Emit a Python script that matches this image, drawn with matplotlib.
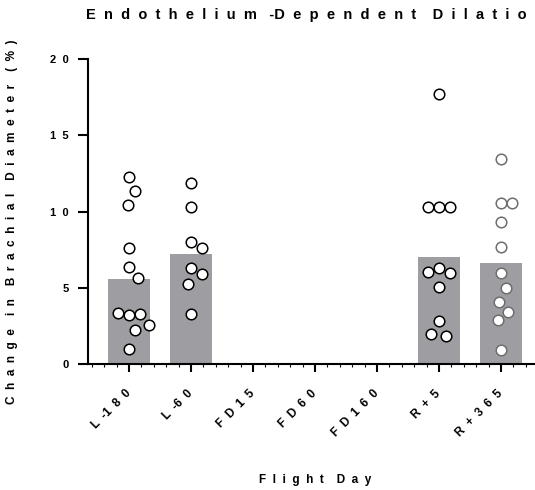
import numpy as np
import matplotlib.pyplot as plt
from matplotlib.ticker import MultipleLocator

plt.rcParams['font.family'] = ['Liberation Sans', 'DejaVu Sans']
plt.rcParams['font.weight'] = 'bold'

# data
days = ['L  -1  8  0', 'L  -6  0', 'F  D  1  5', 'F  D  6  0', 'F  D  1  6  0', 'R  +  5', 'R  +  3  6  5']
means = [5.6, 7.2, np.nan, np.nan, np.nan, 7.05, 6.6]
l180 = [12.27, 11.33, 10.41, 7.58, 6.38, 5.62, 3.22, 3.27, 3.33, 2.57, 2.24, 1.0]
l60 = [11.9, 10.3, 8.0, 7.58, 6.32, 5.88, 5.23, 3.27]
rp5 = [17.7, 10.3, 10.3, 10.3, 6.27, 6.0, 6.06, 5.08, 2.79, 1.87, 1.96]
rp365 = [13.46, 10.59, 10.59, 9.33, 7.69, 5.99, 4.97, 4.1, 3.44, 2.9, 0.9]
subjects = {0: l180, 1: l60, 5: rp5, 6: rp365}
yticks = [0, 5, 10, 15, 20]
ytick_labels = ['0', '5', '1  0', '1  5', '2  0']

PX_X = 62.0   # pixels per category
PX_Y = 15.3   # pixels per unit
DX = 11.0     # horizontal clearance in pixels
DY = 17.0     # vertical clearance in pixels


def swarm(vals):
    """simple beeswarm offsets (category units)"""
    placed = []
    offs = []
    for v in vals:
        y = v * PX_Y
        best = None
        for k in range(0, 60):
            for sgn in ([0] if k == 0 else [1, -1]):
                x = sgn * k * 1.0
                ok = all(((x - px) / DX) ** 2 + ((y - py) / DY) ** 2 >= 1 for px, py in placed)
                if ok:
                    best = x
                    break
            if best is not None:
                break
        placed.append((best, y))
        offs.append(best / PX_X)
    return offs


fig = plt.figure(figsize=(5.35, 4.9), dpi=100)
ax = fig.add_axes([0.1645, 0.2571, 0.8486, 0.6224])

x = np.arange(len(days))
ax.bar(x, means, width=0.67, color='#9e9ea2', zorder=1)

for i, vals in subjects.items():
    offs = swarm(vals)
    ec = '#6e6e6e' if i == 6 else 'black'
    ax.scatter(i + np.array(offs), vals, s=58, facecolor='white', edgecolor=ec,
               linewidth=1.1, zorder=3, clip_on=False)

ax.set_xlim(-0.66, 6.66)
ax.set_ylim(0, 20)
ax.set_xticks(x)
ax.set_xticklabels(days, rotation=45, ha='right', va='center', rotation_mode='anchor', fontsize=8.5)
ax.xaxis.set_minor_locator(MultipleLocator(0.2))
ax.set_yticks(yticks)
ax.set_yticklabels(ytick_labels, fontsize=8)

ax.tick_params(axis='x', which='major', length=6, width=1.5, pad=14)
ax.tick_params(axis='x', which='minor', length=2, width=0.8)
ax.tick_params(axis='y', which='major', length=7, width=1.5, pad=7)
for s in ['top', 'right']:
    ax.spines[s].set_visible(False)
for s in ['left', 'bottom']:
    ax.spines[s].set_linewidth(1.5)

# the title runs off the right edge, as in the original figure
ax.set_title('E  n  d  o  t  h  e  l  i  u  m   -D  e  p  e  n  d  e  n  t    D  i  l  a  t  i  o  n',
             fontsize=10.5, fontweight='bold', pad=29)
ax.set_xlabel('F  l  i  g  h  t    D  a  y', fontsize=8.5, fontweight='bold', labelpad=25)
ax.set_ylabel('C  h  a  n  g  e    i  n    B  r  a  c  h  i  a  l    D  i  a  m  e  t  e  r    (  %  )',
              fontsize=8.5, fontweight='bold')
ax.yaxis.set_label_coords(-0.154, 0.466)

fig.savefig('out.png', dpi=100)
